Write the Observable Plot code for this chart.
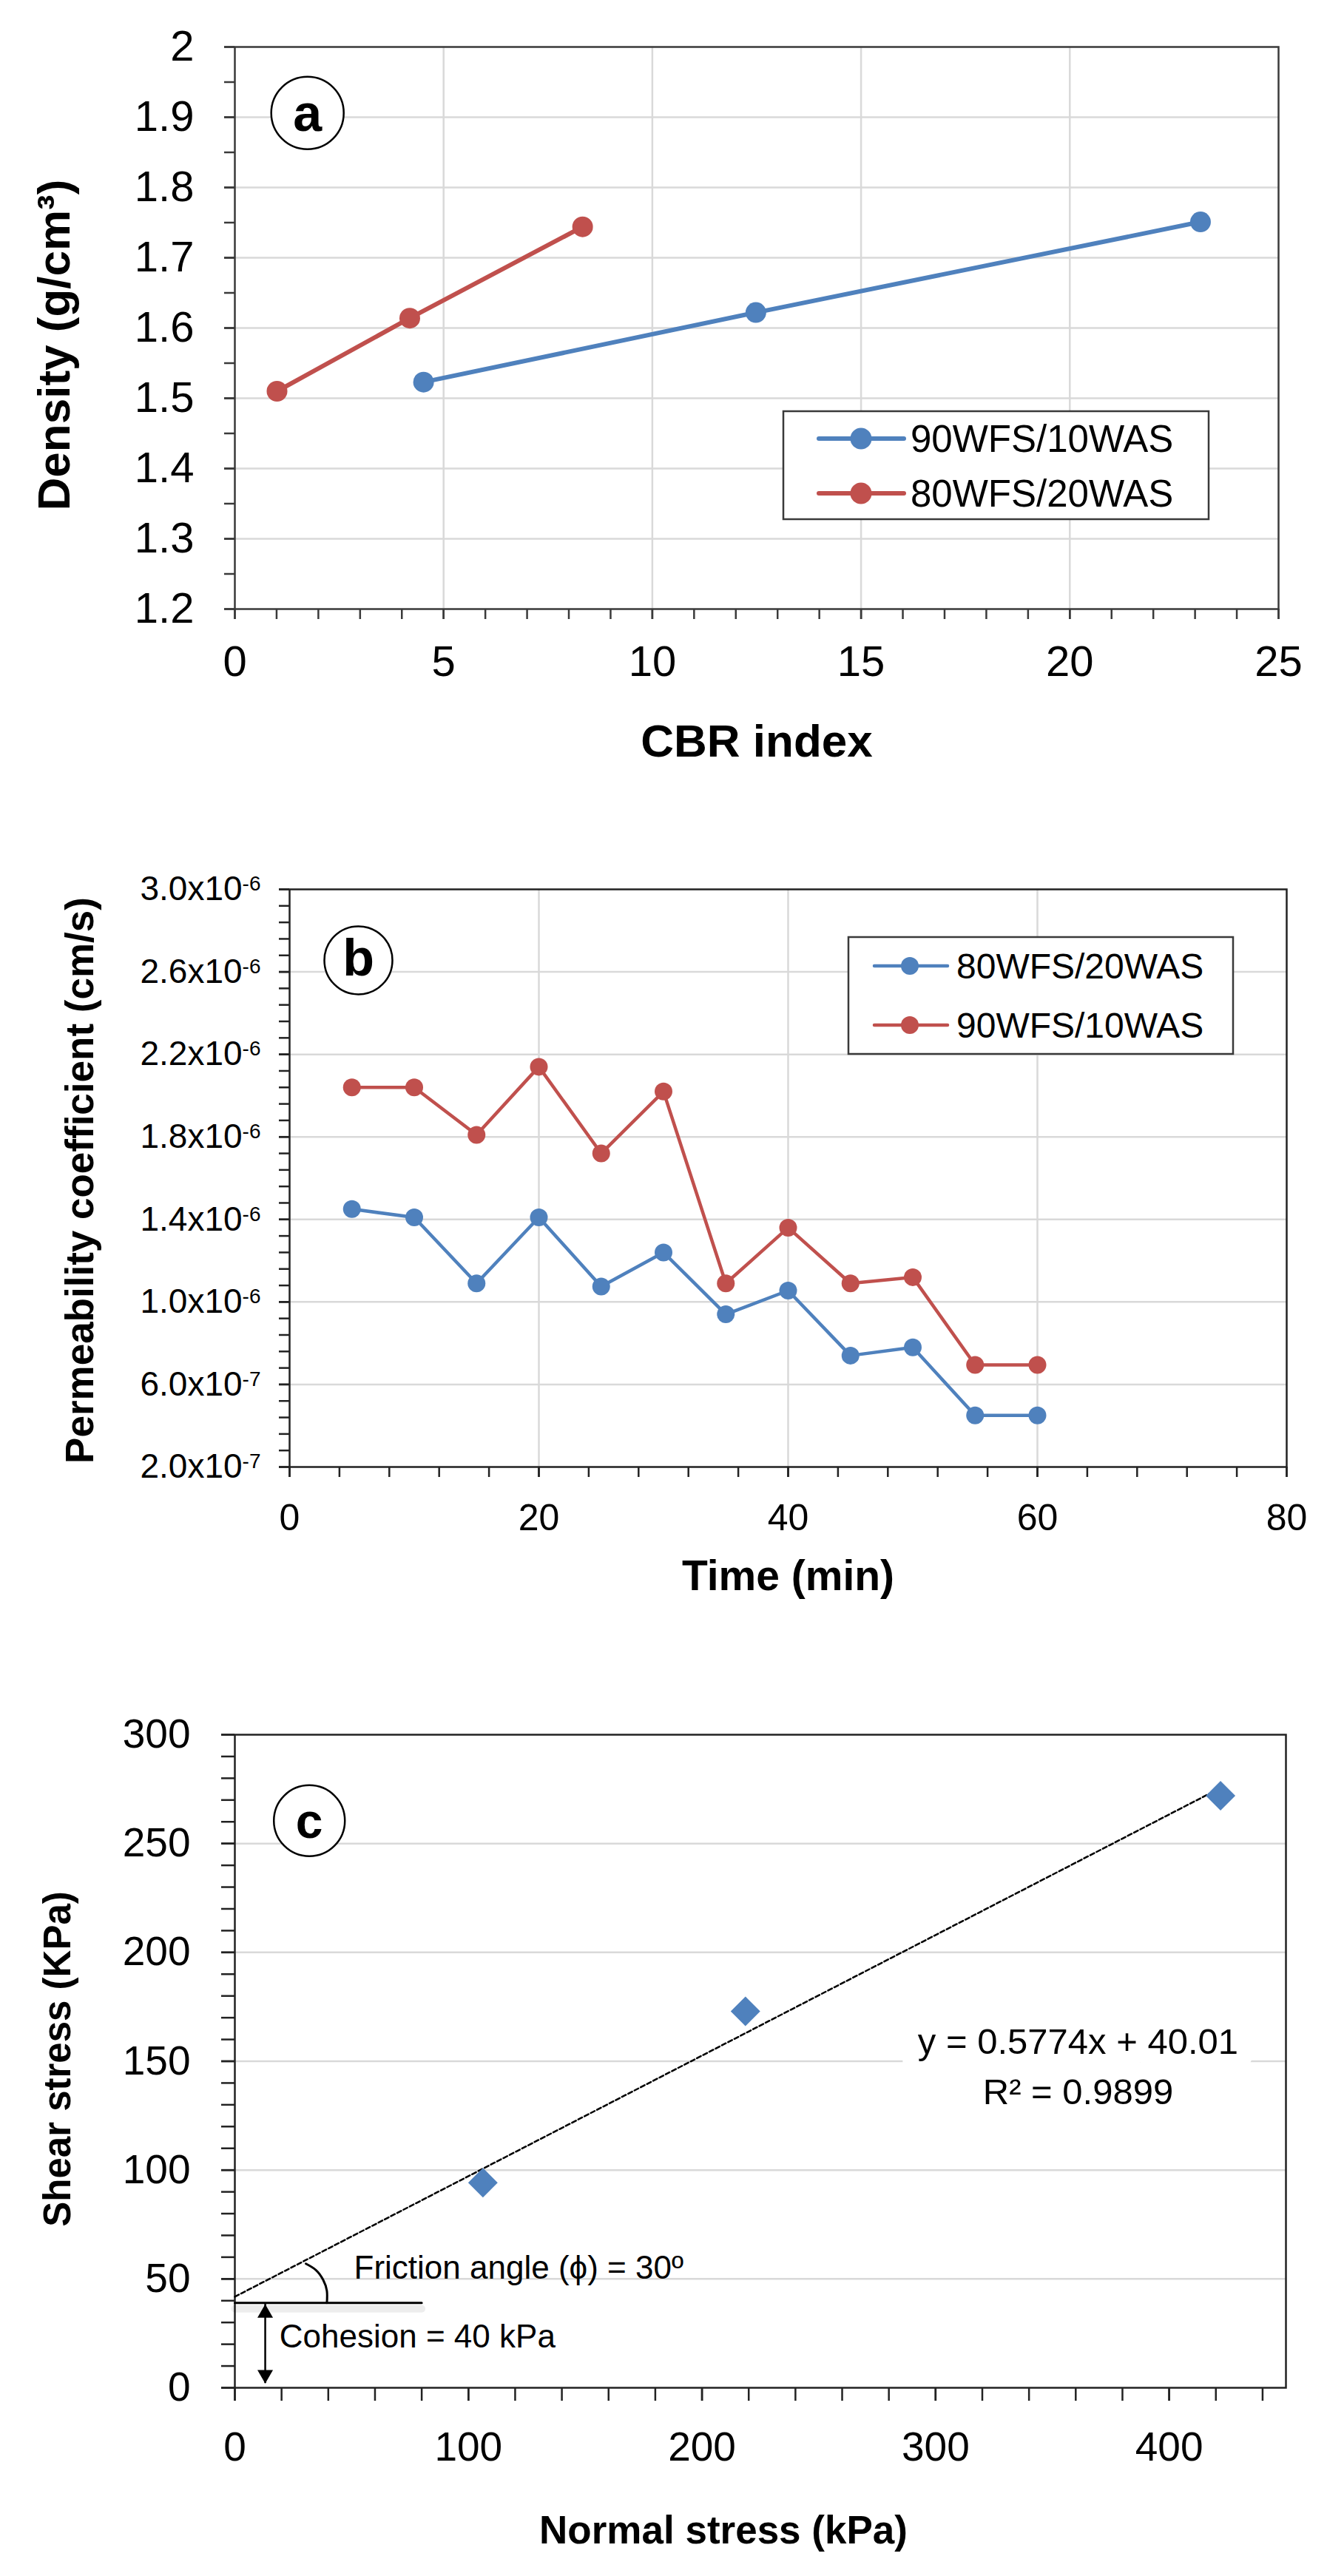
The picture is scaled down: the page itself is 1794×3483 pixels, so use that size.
<!DOCTYPE html>
<html><head><meta charset="utf-8">
<script src="https://cdn.jsdelivr.net/npm/d3@7"></script>
<script src="https://cdn.jsdelivr.net/npm/@observablehq/plot@0.6"></script>
<style>
html,body{margin:0;padding:0;background:#fff;}
#wrap{width:1794px;}
#wrap svg{display:block;}
</style></head><body><div id="wrap"></div>
<script>
// ---------- Panel a data ----------
const cbrBlue = [4.52, 12.48, 23.13];
const densityBlue = [1.523, 1.622, 1.751];
const cbrRed = [1.01, 4.19, 8.33];
const densityRed = [1.510, 1.614, 1.744];
const seriesA = ["90WFS/10WAS", "80WFS/20WAS"];
const xTicksA = [0, 5, 10, 15, 20, 25];
const yTicksA = [1.2, 1.3, 1.4, 1.5, 1.6, 1.7, 1.8, 1.9, 2.0];
const labelA = [{x: 1.74, y: 1.906, t: "a"}];

// ---------- Panel b data ----------
const timeMin = [5, 10, 15, 20, 25, 30, 35, 40, 45, 50, 55, 60];
const perm8020 = [1.45e-6, 1.41e-6, 1.09e-6, 1.41e-6, 1.075e-6, 1.24e-6, 9.4e-7, 1.055e-6, 7.4e-7, 7.8e-7, 4.5e-7, 4.5e-7];
const perm9010 = [2.04e-6, 2.04e-6, 1.81e-6, 2.14e-6, 1.72e-6, 2.02e-6, 1.09e-6, 1.36e-6, 1.09e-6, 1.12e-6, 6.95e-7, 6.95e-7];
const seriesB = ["80WFS/20WAS", "90WFS/10WAS"];
const xTicksB = [0, 20, 40, 60, 80];
const yTicksB = [2e-7, 6e-7, 1.0e-6, 1.4e-6, 1.8e-6, 2.2e-6, 2.6e-6, 3.0e-6];
const labelB = [{x: 5.52, y: 2.656e-6, t: "b"}];

// ---------- Panel c data ----------
const normalStress = [106.2, 218.6, 422.0];
const shearStress = [94.2, 172.9, 272.0];
const xTicksC = [0, 100, 200, 300, 400];
const yTicksC = [0, 50, 100, 150, 200, 250, 300];
const equationLines = [{x: 361, y: 158.8, t: "y = 0.5774x + 40.01"}, {x: 361, y: 135.7, t: "R² = 0.9899"}];
const frictionLabel = [{x: 51, y: 55, t: "Friction angle (ϕ) = 30º"}];
const cohesionLabel = [{x: 19.1, y: 23.3, t: "Cohesion = 40 kPa"}];
const cohesionLine = [{x: 0, y: 39}, {x: 80, y: 39}];
const cohesionArrowX = 13;
const arcX = [30.4, 34.7, 37.8, 39.4, 39.4];
const arcY = [57.0, 54.1, 49.6, 44.5, 39.0];
const labelC = [{x: 31.9, y: 260.5, t: "c"}];

// ---------- styles ----------
const FONT = "'Liberation Sans', Arial, Helvetica, sans-serif";
const BLUE = "#4F81BD", RED = "#C0504D";
const AXIS = "#3a3a3a", GRID = "#d9d9d9";
const wrap = document.getElementById("wrap");

const rows = (xs, ys) => xs.map((x, i) => ({x, y: ys[i]}));

function addLegend(svg, box, items, o) {
  const g = d3.select(svg).append("g").attr("font-family", FONT).attr("text-anchor", "start");
  g.append("rect").attr("x", box[0]).attr("y", box[1]).attr("width", box[2] - box[0]).attr("height", box[3] - box[1])
    .attr("fill", "white").attr("stroke", AXIS).attr("stroke-width", 2.5);
  items.forEach((it, i) => {
    const y = o.rowY[i];
    g.append("line").attr("x1", o.lx0).attr("x2", o.lx1).attr("y1", y).attr("y2", y)
      .attr("stroke", it.color).attr("stroke-width", o.lw).attr("stroke-linecap", "round");
    g.append("circle").attr("cx", o.mx).attr("cy", y).attr("r", o.r).attr("fill", it.color);
    g.append("text").attr("x", o.tx).attr("y", y).attr("dy", "0.36em").attr("text-anchor", "start")
      .attr("font-size", o.fs).attr("fill", "black").text(it.name);
  });
}

// ================= Panel a =================
const plotA = Plot.plot({
  width: 1794, height: 1100,
  marginLeft: 317, marginRight: 66, marginTop: 63, marginBottom: 277,
  style: {fontFamily: FONT, fontSize: "58px", background: "white", color: "black"},
  x: {domain: [0, 25], label: null},
  y: {domain: [1.2, 2.0], label: null},
  marks: [
    Plot.gridX(xTicksA.slice(1, -1), {stroke: GRID, strokeOpacity: 1, strokeWidth: 2.5}),
    Plot.gridY(yTicksA.slice(1, -1), {stroke: GRID, strokeOpacity: 1, strokeWidth: 2.5}),
    Plot.axisX(d3.range(0, 25.5, 1), {tickSize: 14, tickFormat: () => "", stroke: AXIS, strokeWidth: 2.5, label: null}),
    Plot.axisX(xTicksA, {tickSize: 14, tickPadding: 35, fontSize: 58, stroke: AXIS, strokeWidth: 2.5, label: null}),
    Plot.axisY(d3.range(0, 17).map(i => 1.2 + i * 0.05), {tickSize: 14, tickFormat: () => "", stroke: AXIS, strokeWidth: 2.5, label: null}),
    Plot.axisY(yTicksA, {tickSize: 14, tickPadding: 41, fontSize: 58, stroke: AXIS, strokeWidth: 2.5, label: null,
      tickFormat: d => String(+d.toFixed(1))}),
    Plot.frame({stroke: AXIS, strokeWidth: 2.5}),
    Plot.line(rows(cbrBlue, densityBlue), {x: "x", y: "y", stroke: BLUE, strokeWidth: 6}),
    Plot.line(rows(cbrRed, densityRed), {x: "x", y: "y", stroke: RED, strokeWidth: 6}),
    Plot.dot(rows(cbrBlue, densityBlue), {x: "x", y: "y", r: 14, fill: BLUE}),
    Plot.dot(rows(cbrRed, densityRed), {x: "x", y: "y", r: 14, fill: RED}),
    Plot.dot(labelA, {x: "x", y: "y", r: 49, fill: "white", stroke: "black", strokeWidth: 2.5}),
    Plot.text(labelA, {x: "x", y: "y", text: "t", fontSize: 70, fontWeight: "bold", dy: 2}),
    Plot.text(["CBR index"], {text: d => d, frameAnchor: "bottom", lineAnchor: "middle", textAnchor: "middle",
      dy: 180, fontSize: 62, fontWeight: "bold"}),
    Plot.text(["Density (g/cm³)"], {text: d => d, frameAnchor: "left", lineAnchor: "middle", textAnchor: "middle",
      rotate: -90, dx: -243, dy: 23, fontSize: 62, fontWeight: "bold"})
  ]
});
addLegend(plotA, [1059, 556, 1634, 702], [{name: seriesA[0], color: BLUE}, {name: seriesA[1], color: RED}],
  {rowY: [593, 667], lx0: 1107, lx1: 1222, mx: 1164, r: 14.5, lw: 6, tx: 1231, fs: 51});
wrap.appendChild(plotA);

// ================= Panel b =================
const sciFmt = v => {
  const e = Math.floor(Math.log10(v) + 1e-9);
  const m = v / Math.pow(10, e);
  return m.toFixed(1) + "x10^" + e;
};
const plotB = Plot.plot({
  width: 1794, height: 1100,
  marginLeft: 391, marginRight: 55, marginTop: 102, marginBottom: 217,
  style: {fontFamily: FONT, fontSize: "48px", background: "white", color: "black"},
  x: {domain: [0, 80], label: null},
  y: {domain: [2e-7, 3e-6], label: null},
  marks: [
    Plot.gridX(xTicksB.slice(1, -1), {stroke: GRID, strokeOpacity: 1, strokeWidth: 2.5}),
    Plot.gridY(yTicksB.slice(1, -1), {stroke: GRID, strokeOpacity: 1, strokeWidth: 2.5}),
    Plot.axisX(d3.range(0, 81, 4), {tickSize: 14, tickFormat: () => "", stroke: "#222", strokeWidth: 2.5, label: null}),
    Plot.axisX(xTicksB, {tickSize: 14, tickPadding: 36, fontSize: 50, stroke: "#222", strokeWidth: 2.5, label: null}),
    Plot.axisY(d3.range(0, 36).map(i => (2 + i * 0.8) * 1e-7), {tickSize: 14, tickFormat: () => "", stroke: "#222", strokeWidth: 2.5, label: null}),
    Plot.axisY(yTicksB, {tickSize: 14, tickPadding: 25, fontSize: 46, stroke: "#222", strokeWidth: 2.5, label: null, tickFormat: sciFmt}),
    Plot.frame({stroke: "#222", strokeWidth: 2.5}),
    Plot.line(rows(timeMin, perm9010), {x: "x", y: "y", stroke: RED, strokeWidth: 4.5}),
    Plot.line(rows(timeMin, perm8020), {x: "x", y: "y", stroke: BLUE, strokeWidth: 4.5}),
    Plot.dot(rows(timeMin, perm9010), {x: "x", y: "y", r: 12, fill: RED}),
    Plot.dot(rows(timeMin, perm8020), {x: "x", y: "y", r: 12, fill: BLUE}),
    Plot.dot(labelB, {x: "x", y: "y", r: 46, fill: "white", stroke: "black", strokeWidth: 2.5}),
    Plot.text(labelB, {x: "x", y: "y", text: "t", fontSize: 70, fontWeight: "bold", dy: -2}),
    Plot.text(["Time (min)"], {text: d => d, frameAnchor: "bottom", lineAnchor: "middle", textAnchor: "middle",
      dy: 148, fontSize: 57, fontWeight: "bold"}),
    Plot.text(["Permeability coefficient (cm/s)"], {text: d => d, frameAnchor: "left", lineAnchor: "middle", textAnchor: "middle",
      rotate: -90, dx: -282, dy: 3, fontSize: 53, fontWeight: "bold"})
  ]
});
d3.select(plotB).selectAll("text").each(function () {
  const t = this.textContent;
  const m = t.match(/^(.*x10)\^(-?\d+)$/);
  if (!m) return;
  const sel = d3.select(this);
  sel.text(null);
  sel.append("tspan").text(m[1]);
  sel.append("tspan").attr("dy", -13).attr("font-size", 28).text(m[2]);
});
addLegend(plotB, [1147, 167, 1667, 325], [{name: seriesB[0], color: BLUE}, {name: seriesB[1], color: RED}],
  {rowY: [206, 286], lx0: 1182, lx1: 1281, mx: 1230, r: 12, lw: 4.5, tx: 1293, fs: 48});
wrap.appendChild(plotB);

// ================= Panel c =================
const mx = d3.mean(normalStress), my = d3.mean(shearStress);
const slope = d3.sum(normalStress, (x, i) => (x - mx) * (shearStress[i] - my)) / d3.sum(normalStress, x => (x - mx) ** 2);
const intercept = my - slope * mx;
const trend = [0, d3.max(normalStress)].map(x => ({x, y: intercept + slope * x}));

const plotC = Plot.plot({
  width: 1794, height: 1283,
  marginLeft: 317, marginRight: 56, marginTop: 145, marginBottom: 255,
  style: {fontFamily: FONT, fontSize: "55px", background: "white", color: "black"},
  x: {domain: [0, 450], label: null},
  y: {domain: [0, 300], label: null},
  marks: [
    Plot.gridY(yTicksC.slice(1, -1), {stroke: GRID, strokeOpacity: 1, strokeWidth: 2.5}),
    Plot.axisX(d3.range(0, 441, 20), {tickSize: 18, tickFormat: () => "", stroke: "#222", strokeWidth: 2.5, label: null}),
    Plot.axisX(xTicksC, {tickSize: 18, tickPadding: 41, fontSize: 55, stroke: "#222", strokeWidth: 2.5, label: null}),
    Plot.axisY(d3.range(0, 301, 10), {tickSize: 18, tickFormat: () => "", stroke: "#222", strokeWidth: 2.5, label: null}),
    Plot.axisY(yTicksC, {tickSize: 18, tickPadding: 42, fontSize: 55, stroke: "#222", strokeWidth: 2.5, label: null}),
    Plot.frame({stroke: "#222", strokeWidth: 2.5}),
    Plot.text(equationLines, {x: "x", y: "y", text: "t", fontSize: 49, fill: "white", stroke: "white", strokeWidth: 44}),
    Plot.text(equationLines, {x: "x", y: "y", text: "t", fontSize: 49, fill: "black"}),
    Plot.line(trend, {x: "x", y: "y", stroke: "black", strokeWidth: 2.5, strokeDasharray: "6,3.5"}),
    Plot.line(cohesionLine, {x: "x", y: "y", stroke: "black", strokeWidth: 10, strokeOpacity: 0.07, dy: 8}),
    Plot.line(cohesionLine, {x: "x", y: "y", stroke: "black", strokeWidth: 3}),
    Plot.line(rows(arcX, arcY), {x: "x", y: "y", stroke: "black", strokeWidth: 3, curve: "natural"}),
    Plot.ruleX([cohesionArrowX], {y1: cohesionLine[0].y, y2: 2, stroke: "black", strokeWidth: 2.5}),
    Plot.dot([{x: cohesionArrowX, y: cohesionLine[0].y}], {x: "x", y: "y", symbol: "triangle", r: 7.8, fill: "black", dy: 14}),
    Plot.dot([{x: cohesionArrowX, y: 0}], {x: "x", y: "y", symbol: "triangle", r: 7.8, fill: "black", rotate: 180, dy: -18}),
    Plot.text(frictionLabel, {x: "x", y: "y", text: "t", textAnchor: "start", fontSize: 44}),
    Plot.text(cohesionLabel, {x: "x", y: "y", text: "t", textAnchor: "start", fontSize: 44}),
    Plot.dot(rows(normalStress, shearStress), {x: "x", y: "y", symbol: "diamond2", r: 18, fill: BLUE}),
    Plot.dot(labelC, {x: "x", y: "y", r: 48, fill: "white", stroke: "black", strokeWidth: 2.5}),
    Plot.text(labelC, {x: "x", y: "y", text: "t", fontSize: 66, fontWeight: "bold", dy: 2}),
    Plot.text(["Normal stress (kPa)"], {text: d => d, frameAnchor: "bottom", lineAnchor: "middle", textAnchor: "middle",
      dx: -50, dy: 194, fontSize: 53, fontWeight: "bold"}),
    Plot.text(["Shear stress (KPa)"], {text: d => d, frameAnchor: "left", lineAnchor: "middle", textAnchor: "middle",
      rotate: -90, dx: -239, dy: -3, fontSize: 51, fontWeight: "bold"})
  ]
});
wrap.appendChild(plotC);
</script>
</body></html>
